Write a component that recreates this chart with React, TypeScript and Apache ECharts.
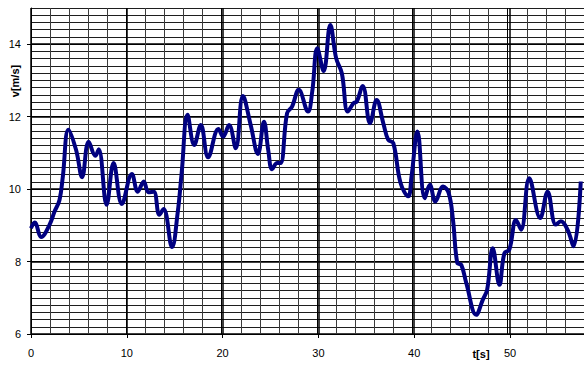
import { useEffect, useRef } from "react";
import * as echarts from "echarts";

// Wind speed record: time [s] and speed [m/s]
const times = [
  0.0, 0.38, 1.08, 1.95, 2.47, 2.99, 3.34, 3.93, 4.73, 5.36, 6.05, 6.75, 7.1, 7.93, 8.66, 9.53,
  10.58, 11.2, 11.83, 12.32, 12.87, 13.46, 13.91, 14.79, 15.38, 15.8, 16.42, 17.12, 17.81, 18.58,
  19.66, 20.15, 20.77, 21.47, 22.23, 23.04, 23.8, 24.43, 24.88, 25.29, 25.82, 26.17, 26.86, 27.38,
  28.08, 29.05, 29.5, 30.03, 30.69, 31.39, 32.01, 32.6, 33.23, 33.82, 34.17, 34.79, 35.56, 36.25,
  36.95, 37.47, 38.0, 38.76, 39.56, 39.91, 40.53, 41.3, 41.83, 42.41, 43.22, 43.81, 44.26, 44.71,
  45.13, 45.65, 46.7, 47.39, 47.84, 48.43, 49.13, 49.65, 50.17, 50.87, 51.4, 52.26, 53.41, 54.18,
  55.04, 55.57, 56.27, 56.9, 57.66,
];
const speeds = [
  8.92, 9.08, 8.68, 9.02, 9.38, 9.7, 10.35, 11.64, 11.08, 10.33, 11.31, 10.92, 11.1, 9.57, 10.72, 9.59,
  10.42, 9.93, 10.21, 9.91, 9.93, 9.29, 9.45, 8.4, 9.34, 10.44, 12.05, 11.22, 11.77, 10.88,
  11.66, 11.45, 11.77, 11.13, 12.57, 11.77, 10.97, 11.86, 11.08, 10.55, 10.72, 10.72, 12.1, 12.28,
  12.74, 12.14, 12.7, 13.89, 13.26, 14.53, 13.61, 13.2, 12.14, 12.37, 12.42, 12.85, 11.82, 12.46,
  11.82, 11.36, 11.27, 10.17, 9.8, 10.35, 11.59, 9.75, 10.12, 9.66, 10.07, 9.89, 9.15, 7.96,
  7.91, 7.41, 6.53, 6.95, 7.22, 8.37, 7.36, 8.23, 8.33, 9.15, 8.88, 10.3, 9.2, 9.93,
  9.02, 9.11, 8.88, 8.42, 10.21,
];

const xName = "t[s]";
const yName = "v[m/s]";

const FONT = "'Liberation Sans', Arial, Helvetica, sans-serif";
const MINOR_V = "#3c3c3c";
const MINOR_H = "#1e1e1e";

export default function App() {
  const ref = useRef<HTMLDivElement>(null);

  useEffect(() => {
    if (!ref.current) return;
    const chart = echarts.init(ref.current, undefined, { renderer: "svg" });
    const hMinorColors = ["#000"].concat(Array(9).fill(MINOR_H));
    const vMinorColors = ["#000"].concat(Array(4).fill(MINOR_V));

    chart.setOption({
      animation: false,
      backgroundColor: "#fff",
      textStyle: { fontFamily: FONT },
      grid: [
        // plot area with the fine grid and the series
        { left: 31, right: -3, top: 8, bottom: 31 },
        // value labels 6..14
        { left: 31, right: -3, top: 44, bottom: 31 },
        // time labels 0..50
        { left: 31, right: 74, top: 8, bottom: 31 },
      ],
      xAxis: [
        {
          type: "value",
          gridIndex: 0,
          min: 0,
          max: 58,
          interval: 2,
          axisLine: { show: true, onZero: false, lineStyle: { color: "#000", width: 1 } },
          axisTick: { show: false },
          axisLabel: { show: false },
          splitLine: { show: true, lineStyle: { color: vMinorColors, width: 1 } },
        },
        { type: "value", gridIndex: 1, min: 0, max: 58, show: false },
        {
          type: "value",
          gridIndex: 2,
          min: 0,
          max: 50,
          interval: 10,
          axisLine: { show: false, onZero: false },
          axisTick: { show: true, length: 4, lineStyle: { color: "#000" } },
          axisLabel: { show: true, color: "#000", fontSize: 11, margin: 13, fontFamily: FONT },
          splitLine: { show: true, lineStyle: { color: "#000", width: 1.5 } },
        },
      ],
      yAxis: [
        {
          type: "value",
          gridIndex: 0,
          min: 6,
          max: 15,
          interval: 0.2,
          axisLine: { show: true, onZero: false, lineStyle: { color: "#000", width: 1 } },
          axisTick: { show: false },
          axisLabel: { show: false },
          splitLine: { show: true, lineStyle: { color: hMinorColors, width: 1 } },
        },
        {
          type: "value",
          gridIndex: 1,
          min: 6,
          max: 14,
          interval: 2,
          axisLine: { show: false, onZero: false },
          axisTick: { show: true, length: 4, lineStyle: { color: "#000" } },
          axisLabel: { show: true, color: "#000", fontSize: 11, margin: 10, fontFamily: FONT },
          splitLine: { show: true, lineStyle: { color: "#000", width: 1.5 } },
        },
        { type: "value", gridIndex: 2, min: 6, max: 15, show: false },
      ],
      graphic: [
        {
          type: "text",
          x: 15,
          y: 81,
          rotation: Math.PI / 2,
          style: {
            text: yName,
            fontFamily: FONT,
            fontSize: 11,
            fontWeight: "bold",
            fill: "#000",
            align: "center",
            verticalAlign: "middle",
          },
        },
        {
          type: "text",
          x: 481,
          y: 354,
          style: {
            text: xName,
            fontFamily: FONT,
            fontSize: 11,
            fontWeight: "bold",
            fill: "#000",
            align: "center",
            verticalAlign: "middle",
          },
        },
      ],
      series: [
        {
          type: "line",
          xAxisIndex: 0,
          yAxisIndex: 0,
          data: times.map((t, i) => [t, speeds[i]]),
          smooth: 0.4,
          showSymbol: false,
          symbol: "none",
          z: 10,
          lineStyle: { color: "#000080", width: 4 },
        },
      ],
    });

    return () => chart.dispose();
  }, []);

  return (
    <div
      ref={ref}
      style={{ position: "fixed", left: 0, top: 0, width: 584, height: 365 }}
    />
  );
}
